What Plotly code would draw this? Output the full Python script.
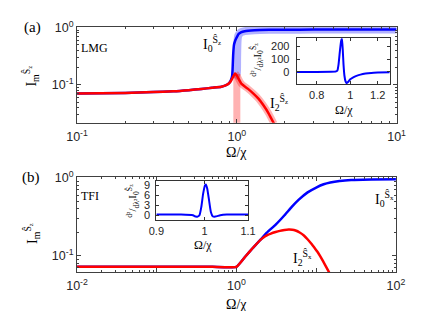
import plotly.graph_objects as go

# ---------------- data ----------------
# (a) LMG, main panel
lmg_x_I0 = [0.1, 0.2, 0.3, 0.4, 0.5, 0.6, 0.7, 0.8, 0.85, 0.885, 0.91, 0.925, 0.935, 0.94, 0.945,
            0.95, 0.96, 0.975, 0.99, 1.01, 1.026, 1.06, 1.12, 1.29, 1.6, 2.0, 3.0, 5.0, 10.0]
lmg_y_I0 = [0.0705, 0.0725, 0.075, 0.0775, 0.081, 0.085, 0.089, 0.093, 0.098, 0.104, 0.115, 0.128,
            0.145, 0.18, 0.26, 0.36, 0.50, 0.58, 0.64, 0.71, 0.77, 0.82, 0.86, 0.89, 0.905, 0.91,
            0.915, 0.918, 0.92]
lmg_x_I2 = [0.1, 0.2, 0.3, 0.4, 0.5, 0.6, 0.7, 0.8, 0.85, 0.885, 0.91, 0.93, 0.95, 0.965, 0.977,
            1.0, 1.07, 1.17, 1.27, 1.37, 1.46, 1.58, 1.71]
lmg_y_I2 = [0.0705, 0.0725, 0.075, 0.0775, 0.081, 0.085, 0.089, 0.093, 0.098, 0.104, 0.112, 0.125,
            0.14, 0.152, 0.157, 0.145, 0.104, 0.086, 0.0705, 0.057, 0.045, 0.032, 0.021]
# large-N (shaded) curves
lmg_x_I0_band = [0.96, 0.99, 1.0, 1.004, 1.008, 1.012, 1.02, 1.04, 1.06, 1.12, 1.29, 1.6, 2.0, 3.0, 5.0, 10.0]
lmg_y_I0_band = [0.135, 0.15, 0.16, 0.3, 0.5, 0.62, 0.71, 0.78, 0.82, 0.86, 0.89, 0.905, 0.91, 0.915, 0.918, 0.92]
lmg_x_I2_band = [1.0, 1.0]
lmg_y_I2_band = [0.155, 0.015]
lmg_x_I2_halo = [0.977, 1.0, 1.07, 1.17, 1.27, 1.37, 1.46, 1.58, 1.71]
lmg_y_I2_halo = [0.157, 0.145, 0.104, 0.086, 0.0705, 0.057, 0.045, 0.032, 0.021]

# (a) inset: second derivative of I0
lmg_ins_x = [0.7, 0.8, 0.88, 0.91, 0.918, 0.925, 0.933, 0.941, 0.946, 0.951, 0.956, 0.962,
             0.969, 0.976, 0.985, 1.0, 1.02, 1.042, 1.07, 1.107, 1.15, 1.2, 1.3]
lmg_ins_y = [0, 0, 1, 4, 12, 60, 160, 245, 262, 180, 60, -30, -75, -88, -80, -57, -42, -31,
             -21, -13, -8, -5, -2]

# (b) TFI, main panel
tfi_x_I0 = [0.01, 0.1, 0.5, 1.0, 1.3, 1.6, 2.0, 2.4, 3.1, 4.0, 4.9, 6.0, 7.8, 10, 12.4, 15,
            19.6, 25, 30, 49, 100]
tfi_y_I0 = [0.0716, 0.0716, 0.0716, 0.0716, 0.098, 0.125, 0.16, 0.197, 0.25, 0.33, 0.42, 0.52,
            0.65, 0.75, 0.826, 0.87, 0.91, 0.93, 0.94, 0.955, 0.962]
tfi_x_I2 = [0.01, 0.1, 0.5, 1.0, 1.3, 1.6, 2.0, 2.2, 2.4, 2.7, 3.09, 3.5, 4.0, 4.5, 5.0, 5.5,
            6.2, 7.0, 7.83, 8.7, 9.5, 10.4, 11.3, 13, 14.9, 16]
tfi_y_I2 = [0.0716, 0.0716, 0.0716, 0.0716, 0.098, 0.125, 0.159, 0.172, 0.182, 0.192, 0.201,
            0.208, 0.213, 0.216, 0.215, 0.21, 0.198, 0.181, 0.161, 0.142, 0.126, 0.111, 0.097,
            0.075, 0.058, 0.049]

# (b) inset
tfi_ins_x = [0.9, 0.95, 0.975, 0.981, 0.985, 0.989, 0.993, 0.997, 1.001, 1.003, 1.006, 1.010,
             1.014, 1.018, 1.024, 1.035, 1.05, 1.1]
tfi_ins_y = [0.2, 0.2, 0.0, -0.4, -0.4, 0.0, 2.5, 6.5, 9.0, 9.3, 8.0, 4.5, 1.0, -0.3, -0.4,
             0.0, 0.2, 0.2]

# tick labels
top_xticks = [0.1, 1, 10]
top_xtext = ["10<sup>-1</sup>", "10<sup>0</sup>", "10<sup>1</sup>"]
bot_xticks = [0.01, 0.1, 1, 10, 100]
bot_xtext = ["10<sup>-2</sup>", "", "10<sup>0</sup>", "", "10<sup>2</sup>"]
yticks = [0.1, 1]
ytext = ["10<sup>-1</sup>", "10<sup>0</sup>"]

BLUE = "#0000ff"
RED = "#ff0000"
SERIF = "Liberation Serif"
SANS = "Liberation Sans"
AX = "#404040"

def minors(lo, hi):
    out = []
    d = lo
    while d < hi:
        for k in range(2, 10):
            out.append(k * d)
        d *= 10
    return out

fig = go.Figure()

# ---- top main
fig.add_trace(go.Scatter(x=lmg_x_I0_band, y=lmg_y_I0_band, mode="lines",
                         line=dict(color="rgba(0,0,255,0.3)", width=8, shape="spline", smoothing=0.6),
                         xaxis="x", yaxis="y", hoverinfo="skip"))
fig.add_trace(go.Scatter(x=lmg_x_I2_band, y=lmg_y_I2_band, mode="lines",
                         line=dict(color="rgba(255,0,0,0.3)", width=7),
                         xaxis="x", yaxis="y", hoverinfo="skip"))
fig.add_trace(go.Scatter(x=lmg_x_I2_halo, y=lmg_y_I2_halo, mode="lines",
                         line=dict(color="rgba(255,0,0,0.3)", width=7, shape="spline", smoothing=0.6),
                         xaxis="x", yaxis="y", hoverinfo="skip"))
fig.add_trace(go.Scatter(x=lmg_x_I0, y=lmg_y_I0, mode="lines",
                         line=dict(color=BLUE, width=2.5, shape="spline", smoothing=0.6),
                         xaxis="x", yaxis="y"))
fig.add_trace(go.Scatter(x=lmg_x_I2, y=lmg_y_I2, mode="lines",
                         line=dict(color=RED, width=2.5, shape="spline", smoothing=0.6),
                         xaxis="x", yaxis="y"))
# ---- top inset
fig.add_trace(go.Scatter(x=lmg_ins_x, y=lmg_ins_y, mode="lines",
                         line=dict(color=BLUE, width=2, shape="spline", smoothing=0.5),
                         xaxis="x2", yaxis="y2"))
# ---- bottom main
fig.add_trace(go.Scatter(x=tfi_x_I0, y=tfi_y_I0, mode="lines",
                         line=dict(color=BLUE, width=2.5, shape="spline", smoothing=0.35),
                         xaxis="x3", yaxis="y3"))
fig.add_trace(go.Scatter(x=tfi_x_I2, y=tfi_y_I2, mode="lines",
                         line=dict(color=RED, width=2.5, shape="spline", smoothing=0.3),
                         xaxis="x3", yaxis="y3"))
# ---- bottom inset
fig.add_trace(go.Scatter(x=tfi_ins_x, y=tfi_ins_y, mode="lines",
                         line=dict(color=BLUE, width=2, shape="spline", smoothing=0.5),
                         xaxis="x4", yaxis="y4"))

main_common = dict(type="log", showgrid=False, zeroline=False, showline=True, linecolor=AX,
                   linewidth=1, mirror="allticks", ticks="inside", ticklen=4, tickcolor=AX,
                   tickfont=dict(family=SANS, size=12.5, color="#262626"))

fig.update_layout(
    width=436, height=311, margin=dict(l=0, r=0, t=0, b=0),
    paper_bgcolor="white", plot_bgcolor="white", showlegend=False,
    xaxis=dict(**main_common, domain=[0.1399, 0.9099], range=[-1, 1], anchor="y",
               tickvals=top_xticks, ticktext=top_xtext, ticklabelstandoff=2,
               minor=dict(tickvals=minors(0.1, 10), ticks="inside", ticklen=2, tickcolor=AX)),
    yaxis=dict(**main_common, domain=[0.6463, 0.9646], range=[-1.66, 0.012], anchor="x",
               tickvals=yticks, ticktext=ytext,
               minor=dict(tickvals=minors(0.01, 1), ticks="inside", ticklen=2, tickcolor=AX)),
    xaxis3=dict(**main_common, domain=[0.1399, 0.9083], range=[-2, 2], anchor="y3",
                tickvals=bot_xticks, ticktext=bot_xtext, ticklabelstandoff=2,
                minor=dict(tickvals=minors(0.01, 100), ticks="inside", ticklen=2, tickcolor=AX)),
    yaxis3=dict(**main_common, domain=[0.1511, 0.4672], range=[-1.216, 0.012], anchor="x3",
                tickvals=yticks, ticktext=ytext,
                minor=dict(tickvals=minors(0.01, 1), ticks="inside", ticklen=2, tickcolor=AX)),
    xaxis2=dict(type="log", domain=[0.669, 0.8933], range=[-0.1549, 0.1139], anchor="y2",
                showgrid=False, zeroline=False, showline=True, linecolor="#333", mirror="allticks",
                ticks="inside", ticklen=3, tickcolor="#333", tickvals=[0.8, 1, 1.2],
                ticktext=["0.8", "1", "1.2"], ticklabelstandoff=1,
                tickfont=dict(family=SANS, size=11, color="#262626")),
    yaxis2=dict(domain=[0.7749, 0.9260], range=[-95, 265], anchor="x2",
                showgrid=False, zeroline=False, showline=True, linecolor="#333", mirror="allticks",
                ticks="inside", ticklen=3, tickcolor="#333", tickvals=[0, 100, 200],
                ticklabelstandoff=4, tickfont=dict(family=SANS, size=11, color="#262626")),
    xaxis4=dict(type="log", domain=[0.331, 0.552], range=[-0.04576, 0.04139], anchor="y4",
                showgrid=False, zeroline=False, showline=True, linecolor="#333", mirror="allticks",
                ticks="inside", ticklen=3, tickcolor="#333", tickvals=[0.9, 1, 1.1],
                ticktext=["0.9", "1", "1.1"], ticklabelstandoff=1,
                tickfont=dict(family=SANS, size=11, color="#262626")),
    yaxis4=dict(domain=[0.3248, 0.4534], range=[-1.4, 10.3], anchor="x4",
                showgrid=False, zeroline=False, showline=True, linecolor="#333", mirror="allticks",
                ticks="inside", ticklen=3, tickcolor="#333", tickvals=[0, 3, 6, 9],
                ticklabelstandoff=3, tickfont=dict(family=SANS, size=11, color="#262626")),
)

def ann(text, px, py, size=13, angle=0, xanchor="center", yanchor="middle", family=SERIF):
    fig.add_annotation(text=text, x=px / 436, y=1 - py / 311, xref="paper", yref="paper",
                       xanchor=xanchor, yanchor=yanchor, showarrow=False, textangle=angle,
                       font=dict(family=family, size=size, color="black"))

ann("(a)", 14, 12, size=15)
ann("(b)", 13, 166, size=15)
ann("LMG", 63, 33, size=12, xanchor="left")
ann("TFI", 63, 185, size=12, xanchor="left")
ann("I<sub>0</sub><sup>Ŝ<sub>z</sub></sup>", 203, 29, size=14)
ann("I<sub>2</sub><sup>Ŝ<sub>z</sub></sup>", 273, 90, size=14)
ann("I<sub>0</sub><sup>Ŝ<sub>x</sub></sup>", 384, 188, size=14)
ann("I<sub>2</sub><sup>Ŝ<sub>x</sub></sup>", 298, 249, size=14)
ann("Ω/χ", 228, 141, size=14)
ann("Ω/χ", 228, 297, size=14)
ann("Ω/χ", 341, 97, size=12)
ann("Ω/χ", 193, 236, size=12)
ann("I<sub>m</sub><sup>Ŝ<sub>z</sub></sup>", 13, 62, size=14, angle=-90)
ann("I<sub>m</sub><sup>Ŝ<sub>z</sub></sup>", 13, 224, size=14, angle=-90)
ann("<sup>d²</sup>/<sub>dλ²</sub>I<sub>0</sub><sup>Ŝ<sub>z</sub></sup>", 250, 45, size=11, angle=-90)
ann("<sup>d²</sup>/<sub>dλ²</sub>I<sub>0</sub><sup>Ŝ<sub>z</sub></sup>", 119, 190, size=11, angle=-90)

fig.write_html("out.html")
